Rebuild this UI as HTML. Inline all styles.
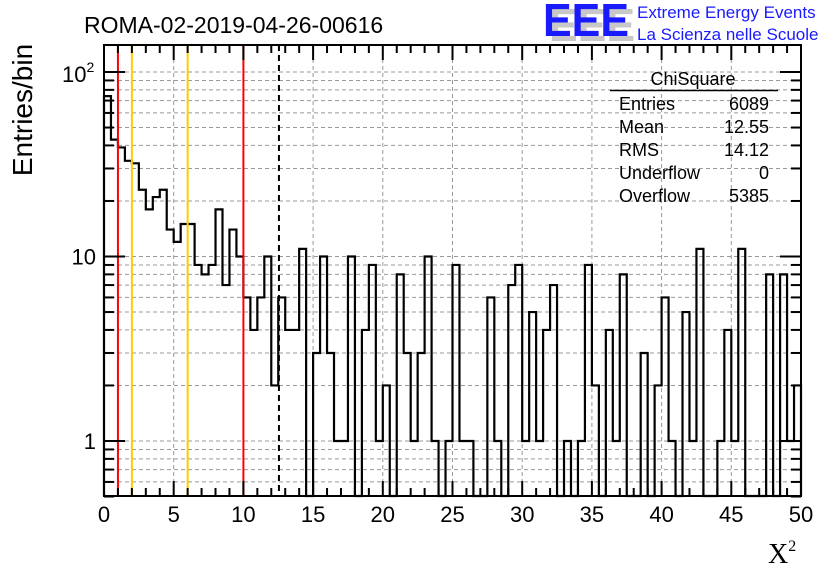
<!DOCTYPE html>
<html><head><meta charset="utf-8"><style>
body{margin:0;background:#fff;width:836px;height:572px;overflow:hidden}
svg{display:block;font-family:"Liberation Sans",sans-serif}
</style></head><body>
<svg id="c" width="836" height="572">
<text x="84" y="33" font-size="23">ROMA-02-2019-04-26-00616</text>
<g>
<text x="549" y="41" font-size="46" font-weight="bold" fill="#c8c8c8" textLength="86" lengthAdjust="spacingAndGlyphs">EEE</text>
<text x="543" y="36" font-size="46" font-weight="bold" fill="#1a1aff" textLength="86" lengthAdjust="spacingAndGlyphs">EEE</text>
<text x="637" y="18" font-size="17" fill="#1a1aff">Extreme Energy Events</text>
<text x="637" y="40" font-size="17" fill="#1a1aff">La Scienza nelle Scuole</text>
</g>
<text transform="translate(32,110) rotate(-90)" font-size="28" text-anchor="middle">Entries/bin</text>
<text x="768" y="563" font-size="28" font-family="Liberation Serif,serif">X<tspan font-size="16" dy="-12">2</tspan></text>
<g id="plot"></g>
<g font-size="18">
<text x="693" y="85" text-anchor="middle">ChiSquare</text>
<line x1="610" y1="90.5" x2="778" y2="90.5" stroke="#000" stroke-width="1.5"/>
<text x="619" y="110">Entries</text><text x="769" y="110" text-anchor="end">6089</text>
<text x="619" y="133">Mean</text><text x="769" y="133" text-anchor="end">12.55</text>
<text x="619" y="156">RMS</text><text x="769" y="156" text-anchor="end">14.12</text>
<text x="619" y="179">Underflow</text><text x="769" y="179" text-anchor="end">0</text>
<text x="619" y="202">Overflow</text><text x="769" y="202" text-anchor="end">5385</text>
</g>
</svg>
<script>
const counts=[74,43,39,33,32,23,18,21,23,14,12,15,15,9,8,9,18,7,14,10,
6,4,6,10,2,6,4,4,11,0,3,10,3,1,1,10,0,4,9,1,
2,0,8,3,1,3,10,1,0,1,9,1,1,0,0,6,1,0,7,9,
1,5,1,4,7,0,1,0,1,9,2,0,4,1,8,0,0,3,0,2,
6,1,0,5,1,11,0,0,1,4,1,11,0,0,0,8,0,8,1,2];
const xTicks=[0,5,10,15,20,25,30,35,40,45,50];
const redLines=[1,10];
const orangeLines=[2,6];
const meanValue=[12.55];
const X0=104,X1=801,Y0=45,Y1=496,XMIN=0,XMAX=50,BW=0.5;
const YLO=0.5;
function xs(v){return X0+(v-XMIN)/(XMAX-XMIN)*(X1-X0);}
function ys(v){return 441-184.5*Math.log10(v);}
const NS='http://www.w3.org/2000/svg';
const P=document.getElementById('plot');
function mk(t,a,par){const e=document.createElementNS(NS,t);for(const k in a)e.setAttribute(k,a[k]);(par||P).appendChild(e);return e;}
const grid=mk('g',{});


xTicks.slice(1,-1).forEach(v=>mk('line',{x1:xs(v),x2:xs(v),y1:Y0,y2:Y1,stroke:'#999','stroke-dasharray':'4,3','stroke-width':1},grid));
for(let d=0.1;d<=100;d*=10){for(let m=1;m<10;m++){const v=Math.round(d*m*100)/100;if(v<YLO||v>122)continue;const y=ys(v);
mk('line',{x1:X0,x2:X1,y1:y,y2:y,stroke:'#999','stroke-dasharray':'4,3','stroke-width':1},grid);}}
let d='';
counts.forEach((c,i)=>{const v=Math.max(c,YLO*0.999);const y=Math.min(ys(v),Y1);const xa=xs(i*BW),xb=xs((i+1)*BW);
d+=(i===0?'M'+xa+','+Y1:'')+' L'+xa+','+y+' L'+xb+','+y;});
d+=' L'+X1+','+Y1;
const h=mk('path',{d:d,fill:'none',stroke:'#000','stroke-width':2.2});


redLines.forEach(v=>{const l=mk('line',{x1:xs(v),x2:xs(v),y1:Y0,y2:Y1,stroke:'#f00','stroke-width':2});

});
orangeLines.forEach(v=>{const l=mk('line',{x1:xs(v),x2:xs(v),y1:Y0,y2:Y1,stroke:'#fc0','stroke-width':2});

});
meanValue.forEach(v=>{const l=mk('line',{x1:xs(v),x2:xs(v),y1:Y0,y2:Y1,stroke:'#000','stroke-width':2,'stroke-dasharray':'6,4'});

});
const fr=mk('rect',{x:X0,y:Y0,width:X1-X0,height:Y1-Y0,fill:'none',stroke:'#000','stroke-width':2});


const xa=mk('g',{});


for(let v=XMIN;v<=XMAX;v++){const x=xs(v);const L=(v%5===0)?15:8;
mk('line',{x1:x,x2:x,y1:Y1,y2:Y1-L,stroke:'#000','stroke-width':2},xa);
mk('line',{x1:x,x2:x,y1:Y0,y2:Y0+L,stroke:'#000','stroke-width':2},xa);}
xTicks.forEach(v=>{const t=mk('text',{x:xs(v),y:522,'font-size':22,'text-anchor':'middle'},xa);t.textContent=v;});
const ya=mk('g',{});


for(let d2=0.1;d2<=100;d2*=10){for(let m=1;m<10;m++){const v=Math.round(d2*m*100)/100;if(v<YLO||v>122)continue;const y=ys(v);const L=(m===1)?21:10;
mk('line',{x1:X0,x2:X0+L,y1:y,y2:y,stroke:'#000','stroke-width':2},ya);
mk('line',{x1:X1,x2:X1-L,y1:y,y2:y,stroke:'#000','stroke-width':2},ya);}}
const yl=[['1',1],['10',10]];
yl.forEach(a=>{const t=mk('text',{x:96,y:ys(a[1])+8,'font-size':22,'text-anchor':'end'},ya);t.textContent=a[0];});
const t2=mk('text',{x:62,y:ys(100)+10,'font-size':22},ya);t2.innerHTML='10<tspan font-size="14" dy="-10">2</tspan>';
</script>
</body></html>
